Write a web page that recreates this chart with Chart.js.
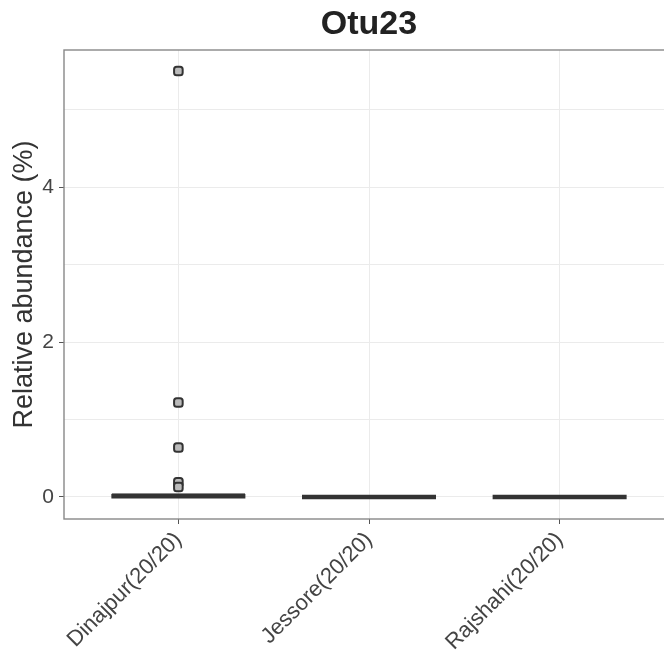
<!DOCTYPE html>
<html>
<head>
<meta charset="utf-8">
<script src="https://cdn.jsdelivr.net/npm/chart.js@4"></script>
<style>
  html, body { margin: 0; padding: 0; background: #fff; overflow: hidden; }
  #wrap { width: 664px; height: 660px; overflow: hidden; }
</style>
</head>
<body>
<div id="wrap"><canvas id="otuChart" width="674" height="660"></canvas></div>
<script>
// Sites and box summaries (relative abundance, %)
const sites = ['Dinajpur(20/20)', 'Jessore(20/20)', 'Rajshahi(20/20)'];
const q1 = [0, 0, 0];
const median = [0.01, 0, 0];
const q3 = [0.05, 0, 0];
const outliers = [[5.5, 1.22, 0.64, 0.19, 0.13], [], []];
const yTicks = [0, 2, 4];

const boxData = sites.map((s, i) => ({ x: i + 1, y: [q1[i], q3[i]] }));
const medianData = sites.map((s, i) => ({ x: i + 1, y: median[i] }));
const outlierData = [];
outliers.forEach((vals, i) => vals.forEach(v => outlierData.push({ x: i + 1, y: v })));

// panel border like ggplot theme_bw
const panelBorder = {
  id: 'panelBorder',
  afterDraw(chart) {
    const a = chart.chartArea;
    const c = chart.ctx;
    c.save();
    c.strokeStyle = '#888';
    c.lineWidth = 1.4;
    c.strokeRect(a.left, a.top, a.right - a.left, a.bottom - a.top);
    c.restore();
  }
};

const ctx = document.getElementById('otuChart').getContext('2d');
const otuChart = new Chart(ctx, {
  data: {
    datasets: [
      {
        type: 'bar',
        data: boxData,
        backgroundColor: '#fff',
        borderColor: '#333',
        borderWidth: 2,
        borderSkipped: false,
        categoryPercentage: 1,
        barPercentage: 0.7,
        order: 3
      },
      {
        // median bars drawn as wide line markers
        type: 'scatter',
        data: medianData,
        pointStyle: 'line',
        pointRadius: 67,
        pointHoverRadius: 67,
        borderColor: '#333',
        pointBorderWidth: 4.5,
        order: 2
      },
      {
        type: 'scatter',
        data: outlierData,
        pointStyle: 'rectRounded',
        pointRadius: 5,
        pointHoverRadius: 5,
        borderColor: '#333',
        backgroundColor: '#bbb',
        pointBorderWidth: 2,
        order: 1
      }
    ]
  },
  options: {
    responsive: false,
    animation: false,
    layout: { padding: 0, autoPadding: false },
    plugins: {
      legend: { display: false },
      tooltip: { enabled: false },
      title: {
        display: true,
        fullSize: false,
        text: 'Otu23',
        color: '#222',
        font: { family: 'Liberation Sans', size: 34, weight: 'bold' },
        padding: { top: 4, bottom: 5.2 }
      }
    },
    scales: {
      x: {
        type: 'linear',
        min: 0.4,
        max: 3.6,
        offset: false,
        afterBuildTicks(scale) {
          scale.ticks = sites.map((s, i) => ({ value: i + 1 }));
        },
        afterFit(scale) {
          scale.height = 141;
          scale.paddingLeft = 0;
          scale.paddingRight = 0;
        },
        border: { display: false },
        grid: { offset: false, color: '#ebebeb', lineWidth: 1, tickLength: 5, tickColor: '#555' },
        ticks: {
          autoSkip: false,
          minRotation: 45,
          maxRotation: 45,
          padding: 3,
          color: '#444',
          font: { family: 'Liberation Sans', size: 22 },
          callback: (v) => sites[v - 1]
        }
      },
      y: {
        min: -0.284,
        max: 5.77,
        afterBuildTicks(scale) {
          scale.ticks = [1, 3, 5].concat(yTicks).map(v => ({ value: v }));
        },
        afterFit(scale) {
          scale.width = 64;
          scale.paddingTop = 0;
          scale.paddingBottom = 0;
        },
        border: { display: false },
        grid: {
          color: '#ebebeb',
          lineWidth: 1,
          tickLength: 5,
          tickColor: (c) => (yTicks.includes(c.tick.value) ? '#555' : 'rgba(0,0,0,0)')
        },
        ticks: {
          padding: 5,
          color: '#444',
          font: { family: 'Liberation Sans', size: 21 },
          callback: (v) => (yTicks.includes(v) ? String(v) : '')
        },
        title: {
          display: true,
          text: 'Relative abundance (%)',
          color: '#333',
          font: { family: 'Liberation Sans', size: 27 },
          padding: { top: 8, bottom: 0 }
        }
      }
    }
  },
  plugins: [panelBorder]
});
</script>
</body>
</html>
